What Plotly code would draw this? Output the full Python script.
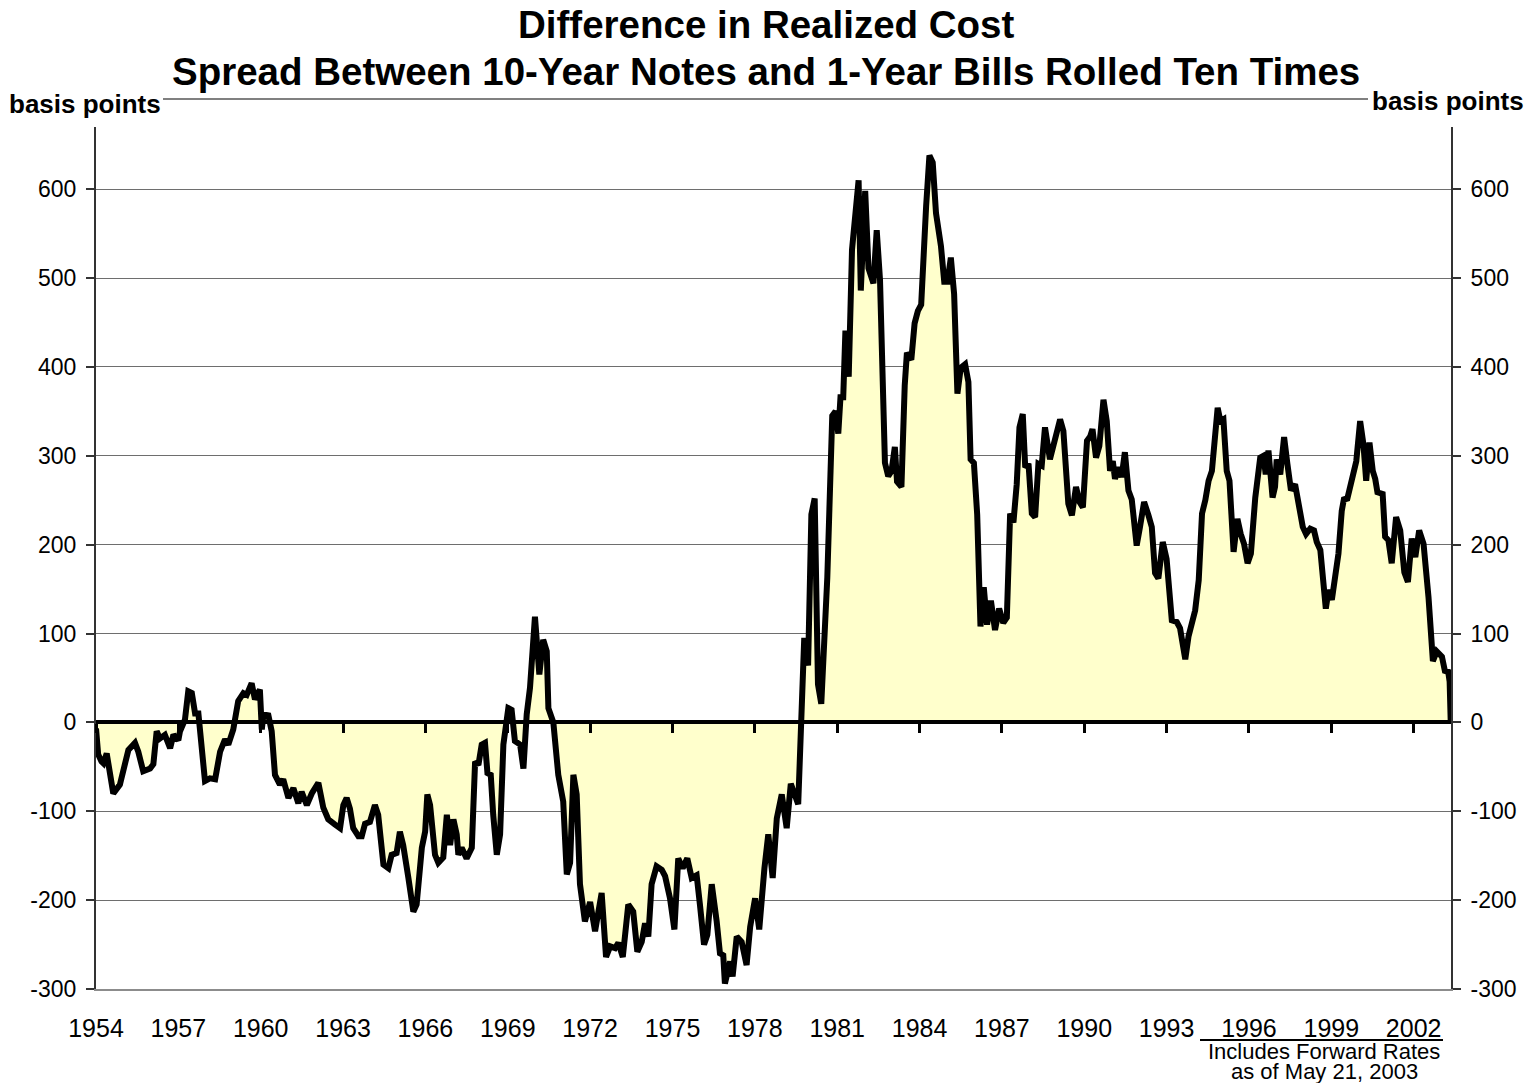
import plotly.graph_objects as go

# spread, basis points (decimal years)
years = [
    1954.00, 1954.08, 1954.20, 1954.27, 1954.39, 1954.63, 1954.87, 1955.00, 1955.18, 1955.42,
    1955.54, 1955.72, 1955.97, 1956.09, 1956.21, 1956.33, 1956.51, 1956.70, 1956.82, 1957.00,
    1957.06, 1957.24, 1957.36, 1957.49, 1957.61, 1957.73, 1957.85, 1957.97, 1958.15, 1958.34,
    1958.52, 1958.70, 1958.82, 1959.00, 1959.18, 1959.37, 1959.49, 1959.67, 1959.79, 1959.97,
    1960.04, 1960.10, 1960.28, 1960.40, 1960.52, 1960.70, 1960.82, 1961.01, 1961.19, 1961.37,
    1961.49, 1961.68, 1961.86, 1962.10, 1962.28,
    1962.46, 1962.71, 1962.89, 1963.01, 1963.13, 1963.25, 1963.37, 1963.56, 1963.68, 1963.80,
    1963.98, 1964.16, 1964.28, 1964.47, 1964.65, 1964.77, 1964.95, 1965.07, 1965.19, 1965.38,
    1965.56, 1965.68, 1965.87, 1965.99, 1966.07, 1966.17, 1966.35, 1966.47, 1966.65, 1966.78,
    1966.90, 1967.02, 1967.14, 1967.20, 1967.32, 1967.50, 1967.69, 1967.81, 1967.93, 1968.05,
    1968.17, 1968.26, 1968.38, 1968.47, 1968.60, 1968.72, 1968.84, 1969.02, 1969.14, 1969.26,
    1969.45, 1969.57, 1969.69, 1969.81, 1969.99, 1970.15, 1970.29, 1970.42, 1970.48, 1970.66,
    1970.84, 1971.02,
    1971.15, 1971.27, 1971.39, 1971.51, 1971.63, 1971.81, 1972.00, 1972.18, 1972.42, 1972.58,
    1972.73, 1972.91, 1973.03, 1973.19, 1973.39, 1973.57, 1973.72, 1973.88, 1974.00, 1974.12,
    1974.24, 1974.42, 1974.61, 1974.73, 1974.91, 1975.07, 1975.21, 1975.37, 1975.54, 1975.70,
    1975.88, 1976.00, 1976.15, 1976.27, 1976.43, 1976.61, 1976.73, 1976.85, 1976.91, 1977.10,
    1977.19, 1977.34, 1977.52, 1977.70, 1977.83, 1978.01, 1978.16, 1978.35, 1978.49, 1978.65,
    1978.80, 1978.98, 1979.16, 1979.31, 1979.46, 1979.58,
    1979.80, 1979.94, 1980.06, 1980.18, 1980.30, 1980.42, 1980.64, 1980.82, 1980.94, 1981.04,
    1981.12, 1981.22, 1981.30, 1981.42, 1981.54, 1981.78, 1981.86, 1982.02, 1982.14, 1982.32,
    1982.44, 1982.56, 1982.74, 1982.86, 1982.98, 1983.10, 1983.18, 1983.34, 1983.46, 1983.54,
    1983.70, 1983.82, 1983.94, 1984.06, 1984.24, 1984.36, 1984.48, 1984.60, 1984.78, 1984.90,
    1985.02, 1985.14, 1985.26, 1985.38, 1985.50, 1985.66, 1985.78, 1985.86, 1985.98, 1986.10,
    1986.22, 1986.34, 1986.46, 1986.60, 1986.75, 1986.90, 1987.05, 1987.18,
    1987.30, 1987.42, 1987.54, 1987.64, 1987.76, 1987.85, 1987.97, 1988.09, 1988.21, 1988.33,
    1988.45, 1988.57, 1988.75, 1988.94, 1989.12, 1989.24, 1989.42, 1989.55, 1989.70, 1989.83,
    1989.95, 1990.10, 1990.22, 1990.30, 1990.43, 1990.55, 1990.70, 1990.82, 1990.94, 1991.04,
    1991.12, 1991.24, 1991.36, 1991.48, 1991.61, 1991.73, 1991.91, 1992.03, 1992.18, 1992.34,
    1992.46, 1992.58, 1992.70, 1992.86, 1993.00, 1993.19, 1993.37, 1993.49, 1993.68, 1993.80,
    1993.92, 1994.04, 1994.17, 1994.29, 1994.41, 1994.53, 1994.65, 1994.78, 1994.86, 1994.96,
    1995.07, 1995.19, 1995.29, 1995.44, 1995.58, 1995.70, 1995.82, 1995.95, 1996.07, 1996.23,
    1996.41, 1996.53, 1996.61, 1996.71, 1996.86, 1996.95, 1997.01, 1997.14, 1997.28, 1997.40,
    1997.53, 1997.68, 1997.84, 1997.96, 1998.08, 1998.23, 1998.37, 1998.47, 1998.60, 1998.72,
    1998.80, 1998.90, 1999.02, 1999.14, 1999.26, 1999.38, 1999.47, 1999.57, 1999.69, 1999.81,
    1999.91, 2000.05, 2000.17, 2000.27, 2000.39, 2000.51, 2000.60, 2000.68, 2000.87, 2000.96,
    2001.08, 2001.20, 2001.36, 2001.51, 2001.66, 2001.79, 2001.93, 2002.06, 2002.20, 2002.36,
    2002.54, 2002.70, 2002.84, 2003.03, 2003.15, 2003.25, 2003.31, 2003.35,
]
spread_bp = [
    -7, -36, -44, -46, -35, -80, -70, -52, -31, -23,
    -33, -55, -52, -47, -10, -18, -14, -29, -14, -20,
    -10, 3, 35, 33, 10, 10, -33, -66, -63, -64,
    -33, -19, -25, -8, 24, 33, 31, 44, 26, 37,
    -8, 9, 8, -10, -59, -70, -64, -85, -74, -91,
    -78, -93, -80, -68, -96,
    -109, -115, -119, -93, -85, -97, -119, -128, -128, -114,
    -112, -93, -104, -160, -164, -149, -147, -123, -138, -175,
    -213, -205, -141, -123, -81, -93, -149, -158, -152, -104,
    -138, -109, -126, -149, -141, -153, -141, -44, -48, -25,
    -23, -57, -59, -104, -149, -126, -25, 16, 14, -21,
    -25, -52, 9, 39, 119, 54, 93, 80, 16, 0,
    -59, -89,
    -171, -158, -59, -81, -182, -224, -202, -235, -192, -264,
    -252, -254, -248, -264, -205, -213, -258, -247, -226, -241,
    -182, -162, -166, -173, -198, -233, -153, -164, -153, -175,
    -172, -205, -250, -239, -182, -224, -260, -262, -294, -269,
    -286, -241, -247, -273, -230, -198, -233, -164, -126, -175,
    -108, -81, -119, -69, -81, -92,
    95, 64, 234, 252, 43, 21, 163, 345, 350, 325,
    366, 366, 441, 389, 532, 610, 486, 598, 511, 494,
    554, 498, 292, 277, 283, 310, 271, 265, 379, 416,
    408, 449, 463, 470, 581, 638, 630, 573, 536, 496,
    496, 523, 482, 370, 399, 403, 383, 296, 292, 234,
    108, 152, 110, 137, 104, 128, 112, 118,
    235, 225, 268, 332, 347, 287, 291, 235, 231, 291,
    289, 332, 296, 322, 341, 328, 246, 233, 265, 248,
    242, 317, 322, 330, 298, 311, 363, 339, 283, 294,
    274, 287, 276, 304, 261, 251, 199, 220, 248, 233,
    220, 168, 162, 203, 184, 115, 113, 106, 71, 97,
    112, 126, 160, 235, 250, 272, 283, 339, 354, 339,
    341, 283, 272, 192, 229, 212, 201, 179, 190, 253,
    298, 300, 279, 306, 253, 265, 296, 279, 321, 291,
    261, 268, 238, 220, 212, 218, 216, 203, 194, 149,
    128, 149, 138, 164, 190, 238, 253, 250, 265, 276,
    294, 339, 313, 272, 315, 283, 274, 259, 257, 209,
    205, 179, 231, 216, 169, 158, 207, 186, 216, 201,
    141, 69, 80, 74, 56, 59, 46, 0,
]
tick_years = list(range(1954, 2003, 3))
y_ticks = list(range(-300, 700, 100))
y_ticktext = [str(v) for v in y_ticks]  # plain hyphen, as in the original

X_RANGE = [1954, 2003.36]
Y_RANGE = [-300, 670]
FONT = "Arial, Liberation Sans, sans-serif"

# page body adds an 8px offset, so work in screen pixels and subtract it
OFF = 8
W, H = 1533 - 2 * OFF, 1091 - 2 * OFF
L = 96 - OFF
T = 127 - OFF
R = W - (1451 - OFF)
B = H - (989 - OFF)
plot_w = W - L - R
plot_h = H - T - B


def px(x):
    return (x - OFF - L) / plot_w


def py(y):
    return (H - B - (y - OFF)) / plot_h


zero_pos = (0 - Y_RANGE[0]) / (Y_RANGE[1] - Y_RANGE[0])

fig = go.Figure()

# yellow area between curve and zero
fig.add_trace(go.Scatter(
    x=years, y=spread_bp, mode="lines",
    fill="tozeroy", fillcolor="#FFFFCC",
    line=dict(width=0, color="rgba(0,0,0,0)"),
    xaxis="x", yaxis="y", hoverinfo="skip", showlegend=False,
))

# black spread line
fig.add_trace(go.Scatter(
    x=years, y=spread_bp, mode="lines",
    line=dict(color="black", width=6),
    xaxis="x2", yaxis="y2", showlegend=False,
    hovertemplate="%{x:.2f}: %{y} bp<extra></extra>",
))

axis_col = "#333333"
grid_col = "#6e6e6e"

fig.update_layout(
    width=W, height=H,
    margin=dict(l=L, r=R, t=T, b=B, autoexpand=False),
    paper_bgcolor="white", plot_bgcolor="white",
    font=dict(family=FONT, color="black"),
    xaxis=dict(
        range=X_RANGE, tickvals=tick_years, ticktext=[str(v) for v in tick_years],
        showgrid=False, zeroline=False, showline=True, linecolor="#8c8c8c", linewidth=2,
        ticks="", tickfont=dict(size=25), ticklabelstandoff=16,
    ),
    xaxis2=dict(
        range=X_RANGE, overlaying="x", anchor="free", position=zero_pos,
        tickvals=tick_years, showticklabels=False, showgrid=False, zeroline=False,
        showline=True, linecolor="black", linewidth=4,
        ticks="outside", ticklen=9, tickwidth=3, tickcolor="black",
        layer="above traces",
    ),
    yaxis=dict(
        range=Y_RANGE, tickvals=y_ticks, ticktext=y_ticktext,
        showgrid=True, gridcolor=grid_col, gridwidth=1,
        zeroline=False, showline=True, linecolor=axis_col, linewidth=2,
        ticks="outside", ticklen=8, tickwidth=2, tickcolor=axis_col,
        tickfont=dict(size=23), ticklabelstandoff=5,
    ),
    yaxis2=dict(
        range=Y_RANGE, tickvals=y_ticks, ticktext=y_ticktext,
        overlaying="y", side="right", anchor="x2",
        showgrid=False, zeroline=False, showline=True, linecolor=axis_col, linewidth=2,
        ticks="outside", ticklen=8, tickwidth=2, tickcolor=axis_col,
        tickfont=dict(size=23), ticklabelstandoff=5,
    ),
)

notes = [
    ("Difference in Realized Cost", 766, 25, 38.5, True),
    ("Spread Between 10-Year Notes and 1-Year Bills Rolled Ten Times", 766, 72, 38.5, True),
    ("basis points", 85, 104, 26, True),
    ("basis points", 1448, 101, 26, True),
    ("Includes Forward Rates", 1324, 1051, 22, False),
    ("as of May 21, 2003", 1324, 1071, 22, False),
]
for text, x, y, size, bold in notes:
    fig.add_annotation(
        x=px(x), y=py(y), xref="paper", yref="paper",
        text=f"<b>{text}</b>" if bold else text,
        showarrow=False, xanchor="center", yanchor="middle",
        font=dict(size=size, family=FONT, color="black"),
    )

# thin rule linking the two axis captions, and the rule above the forward-rate note
fig.add_shape(type="line", xref="paper", yref="paper",
              x0=px(163), x1=px(1368), y0=py(99), y1=py(99),
              line=dict(color="#808080", width=2))
fig.add_shape(type="line", xref="paper", yref="paper",
              x0=px(1200), x1=px(1443), y0=py(1040), y1=py(1040),
              line=dict(color="black", width=2))

fig.write_html("out.html")
